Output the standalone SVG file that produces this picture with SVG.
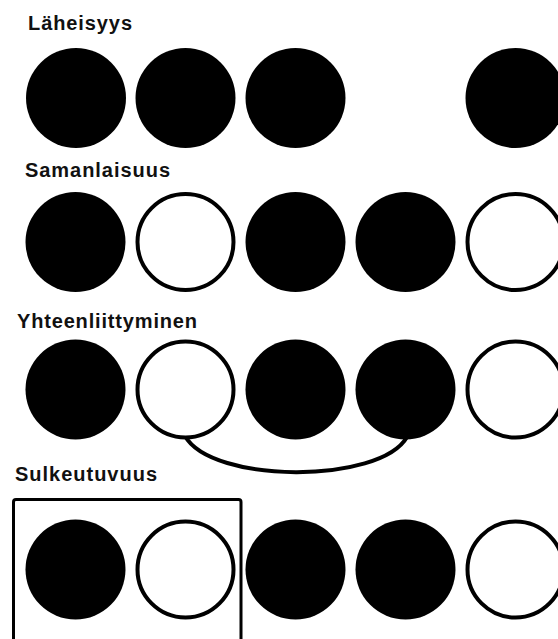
<svg xmlns="http://www.w3.org/2000/svg" width="558" height="639" viewBox="0 0 558 639">
<style>
.lbl{font-family:"Liberation Sans",Arial,Helvetica,sans-serif;font-weight:bold;font-size:20px;fill:#111}
.f{fill:#000}
.o{fill:#fff;stroke:#000;stroke-width:4}
.ln{fill:none;stroke:#000;stroke-width:4}
</style>
<rect width="558" height="639" fill="#fff"/>
<g id="row1">
<text class="lbl" x="28" y="30" textLength="104" lengthAdjust="spacing">Läheisyys</text>
<circle class="f" cx="76" cy="98" r="50"/>
<circle class="f" cx="185.5" cy="98" r="50"/>
<circle class="f" cx="295.5" cy="98" r="50"/>
<circle class="f" cx="515.5" cy="98" r="50"/>
</g>
<g id="row2">
<text class="lbl" x="25" y="177" textLength="145" lengthAdjust="spacing">Samanlaisuus</text>
<circle class="f" cx="75.5" cy="242" r="50"/>
<circle class="o" cx="185.5" cy="242" r="48"/>
<circle class="f" cx="295.5" cy="242" r="50"/>
<circle class="f" cx="405.5" cy="242" r="50"/>
<circle class="o" cx="515.5" cy="242" r="48"/>
</g>
<g id="connectors">
<path class="ln" d="M185,436 C212,484 380,484 407,437"/>
</g>
<g id="row3">
<text class="lbl" x="17" y="328" textLength="180" lengthAdjust="spacing">Yhteenliittyminen</text>
<circle class="f" cx="75.5" cy="389.5" r="50"/>
<circle class="o" cx="185.5" cy="389.5" r="48"/>
<circle class="f" cx="295.5" cy="389.5" r="50"/>
<circle class="f" cx="405.5" cy="389.5" r="50"/>
<circle class="o" cx="515.5" cy="389.5" r="48"/>
</g>
<g id="row4">
<text class="lbl" x="15" y="481" textLength="142" lengthAdjust="spacing">Sulkeutuvuus</text>
<path class="ln" style="stroke-width:3" d="M13.5,645 V502 Q13.5,499.5 16,499.5 H238.5 Q241,499.5 241,502 V645"/>
<circle class="f" cx="75.5" cy="569.5" r="50"/>
<circle class="o" cx="185.5" cy="569.5" r="48"/>
<circle class="f" cx="295.5" cy="569.5" r="50"/>
<circle class="f" cx="405.5" cy="569.5" r="50"/>
<circle class="o" cx="515.5" cy="569.5" r="48"/>
</g>
</svg>
